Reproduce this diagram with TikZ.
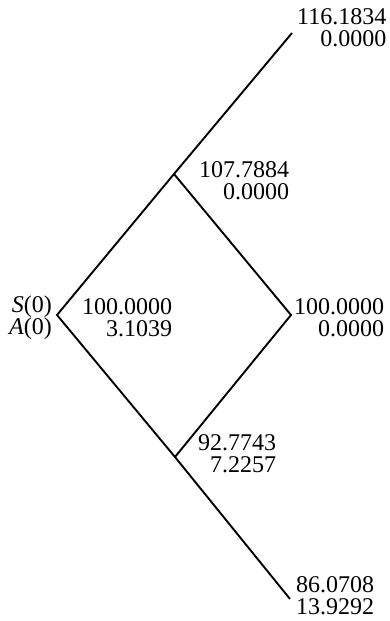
\documentclass[tikz,border=0pt]{standalone}
\usepackage{fontspec}
\setmainfont{Liberation Serif}
\usepackage{tikz}
\usetikzlibrary{positioning, arrows.meta}

\tikzset{
  branch/.style={draw=black, line width=1.9pt},
  lbl/.style={font=\fontsize{24}{22}\selectfont, inner sep=0pt, align=right}
}

\begin{document}
\begin{tikzpicture}[x=1pt, y=1pt]
  \useasboundingbox (0,0) rectangle (389,621);
  % lattice points
  \coordinate (root) at (57,306);
  \coordinate (up) at (174,447);
  \coordinate (top) at (292,588);
  \coordinate (mid) at (291,306);
  \coordinate (down) at (175,164);
  \coordinate (bot) at (290,22);
  \draw[branch] (top) -- (up) -- (root) -- (down) -- (bot);
  \draw[branch] (up) -- (mid) -- (down);
  % values
  \node[lbl, anchor=west] (lTop) at ([xshift=5pt,yshift=5.5pt]top) {116.1834\\0.0000};
  \node[lbl, anchor=west] (lUp) at ([xshift=25pt,yshift=-7pt]up) {107.7884\\0.0000};
  \node[lbl, anchor=east] (lRootL) at ([xshift=-5pt,yshift=-3pt]root) {\textit{S}(0)\\\textit{A}(0)};
  \node[lbl, anchor=west] (lRootR) at ([xshift=25pt,yshift=-3pt]root) {100.0000\\3.1039};
  \node[lbl, anchor=west] (lMid) at ([xshift=3pt,yshift=-3pt]mid) {100.0000\\0.0000};
  \node[lbl, anchor=west] (lDown) at ([xshift=23pt,yshift=3pt]down) {92.7743\\7.2257};
  \node[lbl, anchor=west] (lBot) at ([xshift=6pt,yshift=3pt]bot) {86.0708\\13.9292};
\end{tikzpicture}
\end{document}
